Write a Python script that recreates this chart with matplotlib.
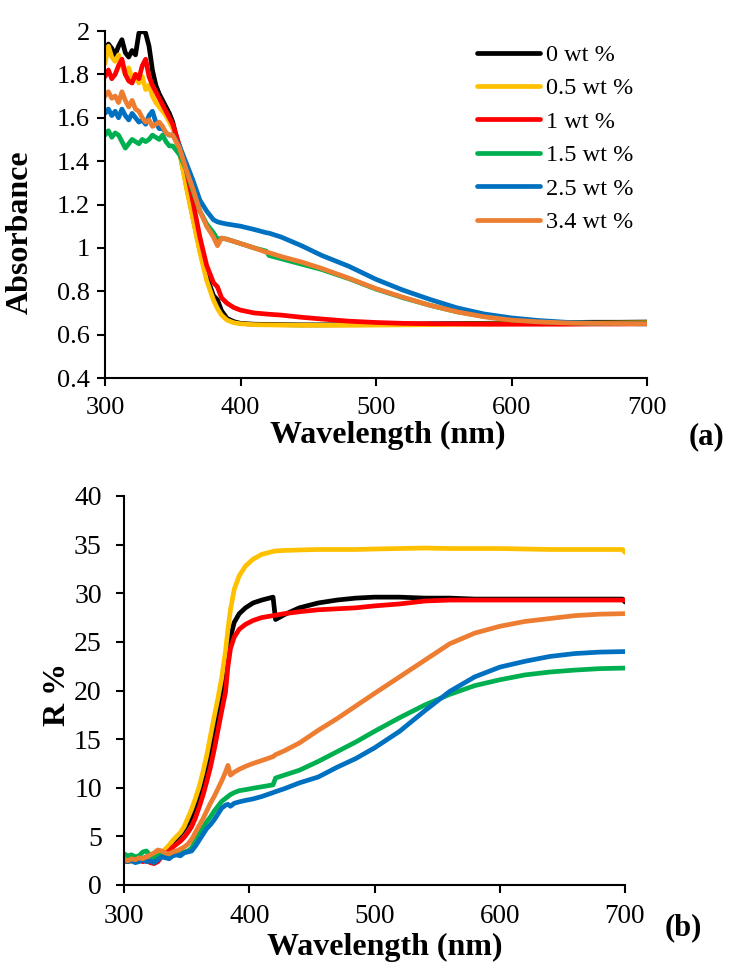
import matplotlib
matplotlib.use("Agg")
import matplotlib.pyplot as plt
from matplotlib.ticker import FuncFormatter, MultipleLocator

plt.rcParams['font.family'] = ['Liberation Serif', 'DejaVu Serif']

labels = ["0 wt %", "0.5 wt %", "1 wt %", "1.5 wt %", "2.5 wt %", "3.4 wt %"]
colors = ["#000000", "#FFC000", "#FF0000", "#00B050", "#0070C0", "#ED7D31"]

# ---------------- (a) Absorbance ----------------
wl_abs = [300, 302.5, 305, 307.5, 310, 312.5, 315, 317.5, 320, 322.5, 325, 327.5, 330, 332.5,
          335, 337.5, 340, 342.5, 345, 347.5, 350, 355, 360, 365, 370, 375, 380, 383, 386, 390,
          395, 400, 410, 419, 421, 430, 445, 460, 480, 500, 520, 540, 560, 580, 600, 620, 640,
          660, 680, 700]

abs_0 = [1.90, 1.94, 1.92, 1.89, 1.93, 1.96, 1.90, 1.88, 1.91, 1.89, 1.99, 2.00, 1.99, 1.93,
         1.82, 1.75, 1.71, 1.68, 1.65, 1.62, 1.58, 1.45, 1.29, 1.14, 0.99, 0.87, 0.78, 0.76,
         0.71, 0.675, 0.66, 0.652, 0.648, 0.647, 0.647, 0.646, 0.645, 0.645, 0.646, 0.647,
         0.648, 0.650, 0.651, 0.652, 0.654, 0.655, 0.656, 0.657, 0.657, 0.658]
abs_05 = [1.85, 1.93, 1.88, 1.86, 1.89, 1.84, 1.80, 1.83, 1.78, 1.80, 1.76, 1.79, 1.73, 1.75,
          1.70, 1.67, 1.65, 1.63, 1.61, 1.58, 1.55, 1.44, 1.28, 1.13, 0.98, 0.85, 0.76, 0.72,
          0.69, 0.667, 0.655, 0.650, 0.646, 0.645, 0.645, 0.644, 0.643, 0.643, 0.643, 0.644,
          0.645, 0.646, 0.648, 0.649, 0.650, 0.651, 0.652, 0.653, 0.654, 0.655]
abs_1 = [1.79, 1.82, 1.78, 1.80, 1.84, 1.87, 1.80, 1.77, 1.76, 1.80, 1.78, 1.84, 1.87, 1.79,
         1.75, 1.72, 1.69, 1.66, 1.63, 1.60, 1.57, 1.47, 1.36, 1.21, 1.05, 0.92, 0.84, 0.82,
         0.77, 0.745, 0.725, 0.713, 0.700, 0.695, 0.694, 0.690, 0.680, 0.672, 0.662, 0.656,
         0.652, 0.650, 0.649, 0.648, 0.648, 0.648, 0.648, 0.649, 0.649, 0.650]
abs_15 = [1.52, 1.54, 1.51, 1.53, 1.52, 1.49, 1.46, 1.48, 1.50, 1.49, 1.48, 1.50, 1.49, 1.50,
          1.52, 1.51, 1.50, 1.52, 1.49, 1.47, 1.47, 1.43, 1.36, 1.26, 1.17, 1.11, 1.07, 1.04,
          1.045, 1.04, 1.03, 1.02, 1.00, 0.985, 0.965, 0.950, 0.925, 0.900, 0.858, 0.810,
          0.770, 0.735, 0.705, 0.684, 0.668, 0.660, 0.655, 0.652, 0.651, 0.650]
abs_25 = [1.62, 1.64, 1.61, 1.63, 1.60, 1.64, 1.61, 1.59, 1.62, 1.60, 1.58, 1.59, 1.57, 1.61,
          1.63, 1.58, 1.55, 1.55, 1.53, 1.52, 1.52, 1.47, 1.39, 1.31, 1.22, 1.17, 1.13, 1.12,
          1.115, 1.11, 1.105, 1.10, 1.085, 1.07, 1.068, 1.05, 1.01, 0.965, 0.915, 0.855,
          0.805, 0.762, 0.723, 0.695, 0.677, 0.665, 0.657, 0.653, 0.651, 0.650]
abs_34 = [1.70, 1.72, 1.69, 1.70, 1.67, 1.72, 1.68, 1.65, 1.68, 1.64, 1.63, 1.60, 1.58, 1.59,
          1.56, 1.57, 1.58, 1.56, 1.53, 1.52, 1.52, 1.46, 1.36, 1.27, 1.17, 1.10, 1.05, 1.01,
          1.045, 1.04, 1.03, 1.02, 1.00, 0.98, 0.978, 0.960, 0.935, 0.905, 0.860, 0.812,
          0.772, 0.735, 0.705, 0.682, 0.667, 0.659, 0.654, 0.652, 0.651, 0.650]

# ---------------- (b) Reflectance ----------------
wl_ref = [300, 303, 306, 309, 312, 315, 318, 321, 324, 327, 330, 333, 336, 339, 342, 345, 348,
          351, 354, 357, 360, 363, 366, 369, 372, 375, 378, 381, 383, 385, 388, 392, 397, 403,
          410, 419, 421, 428, 440, 455, 470, 485, 500, 520, 540, 560, 580, 600, 620, 640, 660,
          680, 698, 700]

ref_0 = [2.6, 2.5, 2.7, 2.6, 2.8, 2.7, 2.9, 2.7, 2.8, 3.0, 3.2, 3.5, 3.9, 4.4, 4.8, 5.2, 5.7,
         6.3, 7.0, 8.0, 9.1, 10.5, 12.1, 14.0, 16.0, 18.0, 20.0, 22.0, 23.8, 25.5, 27.0, 27.9,
         28.5, 29.0, 29.3, 29.6, 27.3, 27.8, 28.5, 29.0, 29.3, 29.5, 29.6, 29.6, 29.5, 29.5,
         29.4, 29.4, 29.4, 29.4, 29.4, 29.4, 29.4, 29.1]
ref_05 = [2.4, 2.5, 2.4, 2.6, 2.5, 2.7, 2.6, 2.8, 2.9, 3.1, 3.3, 3.7, 4.1, 4.6, 5.0, 5.4, 6.0,
          6.9, 7.8, 8.9, 10.1, 11.6, 13.3, 15.3, 17.3, 19.2, 21.3, 24.0, 26.3, 28.3, 30.4,
          31.8, 32.8, 33.5, 34.0, 34.3, 34.35, 34.4, 34.45, 34.5, 34.5, 34.5, 34.55, 34.6,
          34.65, 34.6, 34.6, 34.6, 34.55, 34.5, 34.5, 34.5, 34.5, 34.2]
ref_1 = [2.5, 2.4, 2.6, 2.5, 2.6, 2.4, 2.5, 2.3, 2.2, 2.4, 2.9, 3.2, 3.5, 3.9, 4.2, 4.5, 4.9,
         5.4, 6.0, 6.9, 8.0, 9.2, 10.6, 12.1, 13.9, 15.9, 17.9, 19.8, 22.5, 24.3, 25.5, 26.3,
         26.8, 27.2, 27.5, 27.7, 27.75, 27.9, 28.1, 28.3, 28.4, 28.5, 28.7, 28.9, 29.2, 29.3,
         29.3, 29.3, 29.3, 29.3, 29.3, 29.3, 29.3, 29.3]
ref_15 = [3.2, 3.0, 3.1, 2.9, 3.0, 3.4, 3.5, 3.0, 2.8, 3.0, 3.1, 3.0, 3.2, 3.3, 3.1, 3.3, 3.4,
          3.5, 3.8, 4.5, 5.2, 5.9, 6.5, 7.0, 7.6, 8.1, 8.6, 8.9, 9.1, 9.3, 9.5, 9.7, 9.8, 9.95,
          10.1, 10.3, 11.0, 11.3, 11.8, 12.7, 13.7, 14.7, 15.8, 17.2, 18.5, 19.6, 20.5, 21.1,
          21.6, 21.9, 22.1, 22.25, 22.3, 22.3]
ref_25 = [2.5, 2.4, 2.5, 2.3, 2.4, 2.6, 2.4, 2.5, 2.3, 2.6, 2.9, 2.8, 2.7, 3.0, 3.1, 3.0, 3.3,
          3.4, 3.5, 4.0, 4.6, 5.2, 5.8, 6.2, 6.7, 7.3, 7.9, 8.2, 8.3, 8.1, 8.4, 8.55, 8.7, 8.85,
          9.1, 9.5, 9.6, 9.9, 10.5, 11.1, 12.1, 13.0, 14.1, 15.8, 17.9, 19.9, 21.4, 22.4, 23.0,
          23.5, 23.8, 23.95, 24.0, 24.0]
ref_34 = [2.6, 2.5, 2.7, 2.6, 2.8, 2.7, 2.9, 3.1, 3.3, 3.6, 3.5, 3.3, 3.2, 3.4, 3.5, 3.7, 3.9,
          4.2, 4.7, 5.4, 6.1, 6.8, 7.6, 8.4, 9.1, 9.9, 10.7, 11.6, 12.3, 11.3, 11.6, 11.9, 12.2,
          12.5, 12.8, 13.2, 13.4, 13.8, 14.6, 15.9, 17.1, 18.4, 19.7, 21.4, 23.1, 24.8, 25.9,
          26.6, 27.1, 27.4, 27.7, 27.85, 27.9, 27.9]

abs_series = [abs_0, abs_05, abs_1, abs_15, abs_25, abs_34]
ref_series = [ref_0, ref_05, ref_1, ref_15, ref_25, ref_34]

W, H = 731, 969
fig = plt.figure(figsize=(W / 100, H / 100), dpi=100)

def px_axes(left, top, right, bottom):
    return fig.add_axes([left / W, 1 - bottom / H, (right - left) / W, (bottom - top) / H])

ax1 = px_axes(105, 31, 647, 378)
ax2 = px_axes(124, 496, 625, 885)

LW = 3.4
handles = []
for ys, c, lab in zip(abs_series, colors, labels):
    h, = ax1.plot(wl_abs, ys, color=c, lw=LW, label=lab, solid_capstyle='round',
                  solid_joinstyle='round')
    handles.append(h)
for ys, c, lab in zip(ref_series, colors, labels):
    ax2.plot(wl_ref, ys, color=c, lw=LW, solid_capstyle='round', solid_joinstyle='round')

fmt = FuncFormatter(lambda v, p: "%g" % round(v, 2))
for ax in (ax1, ax2):
    ax.set_xlim(300, 700)
    ax.xaxis.set_major_locator(MultipleLocator(100))
    for s in ("top", "right"):
        ax.spines[s].set_visible(False)
    for s in ("left", "bottom"):
        ax.spines[s].set_linewidth(1.5)
    ax.tick_params(direction='out', length=6, width=1.5)
    ax.yaxis.set_major_formatter(fmt)

ax1.tick_params(axis='y', labelsize=19, pad=5)
ax1.tick_params(axis='x', labelsize=19, pad=8)
ax2.tick_params(axis='y', labelsize=20, pad=10)
ax2.tick_params(axis='x', labelsize=19.5, pad=8)

ax1.set_ylim(0.4, 2.0)
ax1.yaxis.set_major_locator(MultipleLocator(0.2))
ax2.set_ylim(0, 40)
ax2.yaxis.set_major_locator(MultipleLocator(5))

lab_kw = dict(fontsize=23, fontweight='bold')
ax1.set_xlabel("Wavelength (nm)", **lab_kw)
ax1.xaxis.set_label_coords(0.522, -0.124)
ax1.set_ylabel("Absorbance", **lab_kw)
ax1.yaxis.set_label_coords(-0.129, 0.42)

ax2.set_xlabel("Wavelength (nm)", **lab_kw)
ax2.xaxis.set_label_coords(0.521, -0.124)
ax2.set_ylabel("R %", **lab_kw)
ax2.yaxis.set_label_coords(-0.104, 0.49)

fig.text(707 / W, 1 - 437 / H, "(a)", fontsize=22, fontweight='bold', ha='center', va='center')
fig.text(683 / W, 1 - 928 / H, "(b)", fontsize=22, fontweight='bold', ha='center', va='center')

fig.legend(handles=handles, loc='upper left', bbox_to_anchor=(477 / W, 1 - 44 / H),
           frameon=False, fontsize=17.5, handlelength=2.6, handletextpad=0.25,
           labelspacing=0.47, borderpad=0, borderaxespad=0)

fig.savefig("out.png", dpi=100)
